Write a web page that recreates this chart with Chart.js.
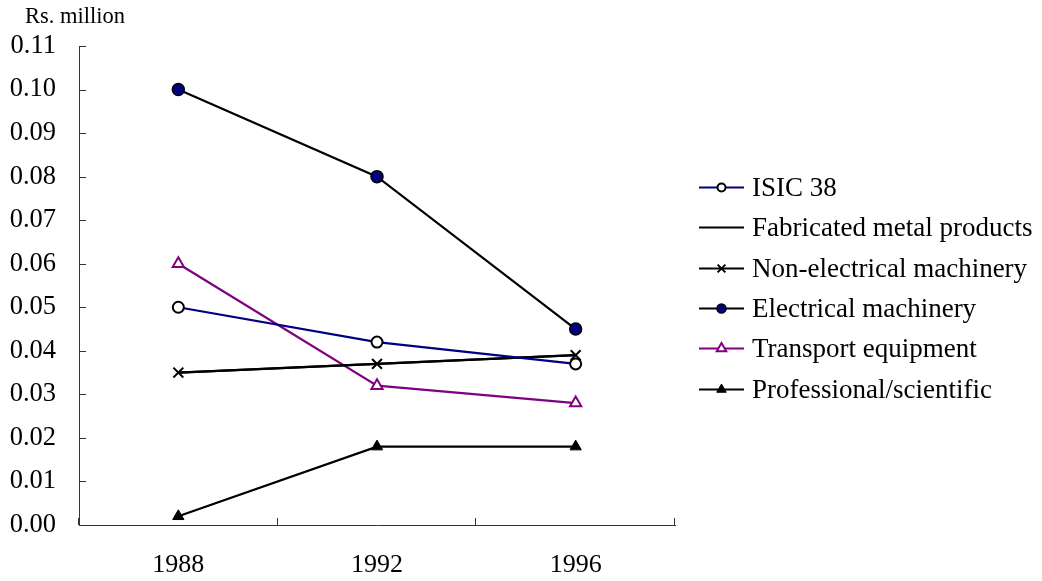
<!DOCTYPE html>
<html>
<head>
<meta charset="utf-8">
<script src="https://cdn.jsdelivr.net/npm/chart.js@4/dist/chart.umd.min.js"></script>
<style>
  html, body { margin: 0; padding: 0; background: #fff; }
  canvas { display: block; }
</style>
</head>
<body>
<canvas id="c" width="1042" height="581"></canvas>
<script>
// Labour productivity by ISIC 38 sub-sector (Rs. million)
const years = ['1988', '1992', '1996'];
const isic38 = [0.050, 0.042, 0.037];
const fabricatedMetal = [0.035, 0.037, 0.039];
const nonElectrical = [0.035, 0.037, 0.039];
const electrical = [0.100, 0.080, 0.045];
const transport = [0.060, 0.032, 0.028];
const professional = [0.002, 0.018, 0.018];
const unitLabel = 'Rs. million';

const SERIF = '"Liberation Serif", "Times New Roman", serif';
const NAVY = '#000080';
const PURPLE = '#800080';

const datasets = [
  { label: 'ISIC 38', data: isic38, borderColor: NAVY, borderWidth: 2.2,
    pointStyle: 'circle', pointRadius: 5.5, pointBackgroundColor: '#fff',
    pointBorderColor: '#000', pointBorderWidth: 2, legendRadius: 4 },
  { label: 'Fabricated metal products', data: fabricatedMetal, borderColor: '#000', borderWidth: 2.2,
    pointRadius: 0, pointStyle: false, legendRadius: 0 },
  { label: 'Non-electrical machinery', data: nonElectrical, borderColor: '#000', borderWidth: 2.2,
    pointStyle: 'crossRot', pointRadius: 7, pointBorderColor: '#000', pointBorderWidth: 2, legendRadius: 5.5 },
  { label: 'Electrical machinery', data: electrical, borderColor: '#000', borderWidth: 2.2,
    pointStyle: 'circle', pointRadius: 6, pointBackgroundColor: NAVY,
    pointBorderColor: '#000', pointBorderWidth: 1.5, legendRadius: 4.5 },
  { label: 'Transport equipment', data: transport, borderColor: PURPLE, borderWidth: 2.2,
    pointStyle: 'triangle', pointRadius: 6.5, pointBackgroundColor: '#fff',
    pointBorderColor: PURPLE, pointBorderWidth: 2, legendRadius: 5.5 },
  { label: 'Professional/scientific', data: professional, borderColor: '#000', borderWidth: 2.2,
    pointStyle: 'triangle', pointRadius: 6.5, pointBackgroundColor: '#000',
    pointBorderColor: '#000', pointBorderWidth: 1, legendRadius: 5.5 }
].map(d => Object.assign({ fill: false, tension: 0 }, d));

// Inward tick marks on both axes
const innerTicks = {
  id: 'innerTicks',
  afterDraw(chart) {
    const ctx = chart.ctx;
    const x = chart.scales.x, y = chart.scales.y;
    const area = chart.chartArea;
    ctx.save();
    ctx.strokeStyle = '#333';
    ctx.lineWidth = 1;
    ctx.beginPath();
    y.ticks.forEach(t => {
      const py = Math.round(y.getPixelForValue(t.value)) + 0.5;
      ctx.moveTo(area.left, py);
      ctx.lineTo(area.left + 7, py);
    });
    const n = years.length;
    for (let i = 0; i <= n; i++) {
      let px;
      if (i === 0) px = area.left;
      else if (i === n) px = area.right;
      else px = (x.getPixelForValue(i - 1) + x.getPixelForValue(i)) / 2;
      px = Math.round(px) - 0.5;
      ctx.moveTo(px, area.bottom);
      ctx.lineTo(px, area.bottom - 7);
    }
    ctx.stroke();
    ctx.restore();
  }
};

// Unit caption above the value axis
const unitCaption = {
  id: 'unitCaption',
  afterDraw(chart) {
    const ctx = chart.ctx;
    ctx.save();
    ctx.fillStyle = '#000';
    ctx.font = '22.5px ' + SERIF;
    ctx.textBaseline = 'middle';
    ctx.textAlign = 'left';
    ctx.fillText(unitLabel, 25, 17);
    ctx.restore();
  }
};

// Legend with line + marker samples, drawn to the right of the plot
const sideLegend = {
  id: 'sideLegend',
  afterDraw(chart) {
    const ctx = chart.ctx;
    const x0 = 699, lineLen = 45, y0 = 187, rowGap = 40.3;
    ctx.save();
    chart.data.datasets.forEach((ds, i) => {
      const yy = Math.round(y0 + i * rowGap) + 0.5;
      ctx.strokeStyle = ds.borderColor;
      ctx.lineWidth = 2;
      ctx.beginPath();
      ctx.moveTo(x0, yy);
      ctx.lineTo(x0 + lineLen, yy);
      ctx.stroke();
      if (ds.pointStyle && ds.legendRadius > 0) {
        ctx.fillStyle = ds.pointBackgroundColor || '#000';
        ctx.strokeStyle = ds.pointBorderColor || '#000';
        ctx.lineWidth = ds.pointBorderWidth || 1;
        Chart.helpers.drawPoint(ctx, {
          pointStyle: ds.pointStyle, radius: ds.legendRadius, rotation: 0,
          borderWidth: ds.pointBorderWidth || 1
        }, x0 + lineLen / 2, yy);
      }
      ctx.fillStyle = '#000';
      ctx.font = '27px ' + SERIF;
      ctx.textBaseline = 'middle';
      ctx.textAlign = 'left';
      ctx.fillText(ds.label, 752, yy + 1);
    });
    ctx.restore();
  }
};

new Chart(document.getElementById('c'), {
  type: 'line',
  data: { labels: years, datasets },
  options: {
    responsive: false,
    animation: false,
    devicePixelRatio: 1,
    layout: { padding: { top: 46, right: 367, left: 0, bottom: 0 } },
    plugins: { legend: { display: false }, tooltip: { enabled: false } },
    scales: {
      x: {
        offset: true,
        grid: { display: false, drawTicks: false },
        border: { display: true, color: '#333', width: 1 },
        ticks: { color: '#000', font: { family: SERIF, size: 26 }, padding: 25 },
        afterFit(scale) { scale.height = 56; }
      },
      y: {
        min: 0, max: 0.11,
        grid: { display: false, drawTicks: false },
        border: { display: true, color: '#333', width: 1 },
        ticks: {
          stepSize: 0.01, color: '#000', padding: 23,
          font: { family: SERIF, size: 26.5 },
          callback: v => Number(v).toFixed(2)
        },
        afterFit(scale) { scale.width = 79; }
      }
    }
  },
  plugins: [innerTicks, unitCaption, sideLegend]
});
</script>
</body>
</html>
